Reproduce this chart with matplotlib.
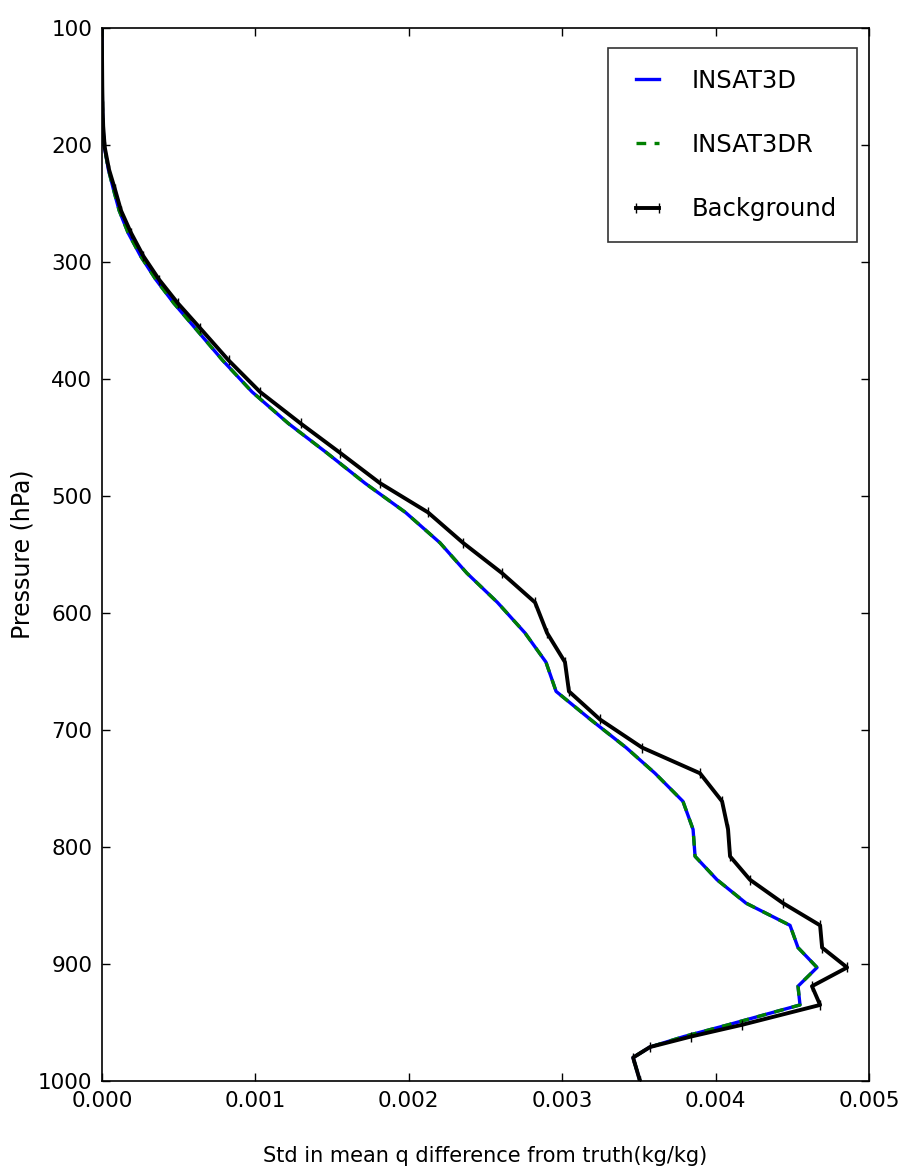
import matplotlib
matplotlib.use("Agg")
import matplotlib.pyplot as plt
from matplotlib.ticker import FormatStrFormatter

# Pressure levels (hPa) shared by all profiles
pressure = [100, 117, 133, 150, 167, 184, 202, 221, 238, 256, 275, 295, 315, 335,
            356, 384, 411, 438, 463, 489, 514, 540, 566, 591, 617, 642, 667, 691,
            715, 737, 761, 785, 808, 828, 848, 867, 886, 903, 919, 935, 952, 962,
            971, 980, 1000]

# Std of mean specific humidity difference from truth (kg/kg)
insat3d = [0.0, 0.0, 0.000001, 0.000002, 0.000003, 0.000006, 0.000016, 0.000042,
           0.000075, 0.000112, 0.000170, 0.000252, 0.000351, 0.000467, 0.000604,
           0.000786, 0.000978, 0.001215, 0.001464, 0.001714, 0.001978, 0.002203,
           0.002379, 0.002578, 0.002757, 0.002894, 0.002960, 0.003184, 0.003416,
           0.003605, 0.003787, 0.003853, 0.003866, 0.004009, 0.004198, 0.004485,
           0.004537, 0.004661, 0.004537, 0.004550, 0.004081, 0.003794, 0.003572,
           0.003462, 0.003507]

insat3dr = [0.0, 0.0, 0.000001, 0.000002, 0.000003, 0.000006, 0.000016, 0.000042,
            0.000075, 0.000112, 0.000170, 0.000252, 0.000351, 0.000467, 0.000604,
            0.000786, 0.000978, 0.001215, 0.001464, 0.001714, 0.001978, 0.002203,
            0.002379, 0.002578, 0.002757, 0.002894, 0.002960, 0.003184, 0.003416,
            0.003605, 0.003787, 0.003853, 0.003866, 0.004009, 0.004198, 0.004485,
            0.004537, 0.004661, 0.004537, 0.004550, 0.004081, 0.003794, 0.003572,
            0.003462, 0.003507]

background = [0.0, 0.0, 0.000001, 0.000002, 0.000004, 0.000008, 0.000018, 0.000046,
              0.000085, 0.000124, 0.000189, 0.000270, 0.000372, 0.000493, 0.000636,
              0.000825, 0.001030, 0.001295, 0.001551, 0.001812, 0.002125, 0.002353,
              0.002608, 0.002823, 0.002901, 0.003018, 0.003044, 0.003246, 0.003520,
              0.003898, 0.004042, 0.004081, 0.004094, 0.004224, 0.004439, 0.004681,
              0.004694, 0.004857, 0.004628, 0.004681, 0.004172, 0.003840, 0.003572,
              0.003462, 0.003507]

series_labels = ["INSAT3D", "INSAT3DR", "Background"]
x_ticks = [0.000, 0.001, 0.002, 0.003, 0.004, 0.005]
y_ticks = [100, 200, 300, 400, 500, 600, 700, 800, 900, 1000]

plt.rcParams["font.family"] = ["DejaVu Sans"]
plt.rcParams["lines.scale_dashes"] = False

fig = plt.figure(figsize=(9.0, 11.76), dpi=100)
ax = fig.add_axes([0.1133, 0.0808, 0.8523, 0.8954])

ax.plot(insat3d, pressure, color="blue", lw=2.4, label=series_labels[0])
ax.plot(insat3dr, pressure, color="green", lw=2.4, dashes=(7, 6),
        label=series_labels[1])
ax.plot(background, pressure, color="black", lw=2.8, marker="|", ms=7, mew=1,
        label=series_labels[2])

ax.set_xlim(0, 0.005)
ax.set_ylim(1000, 100)
ax.set_xticks(x_ticks)
ax.set_yticks(y_ticks)
ax.xaxis.set_major_formatter(FormatStrFormatter("%.3f"))
ax.tick_params(direction="in", length=6, width=1, top=True, right=True,
               labelsize=15.5, pad=7)
for s in ax.spines.values():
    s.set_linewidth(1.2)

ax.set_xlabel("Std in mean q difference from truth(kg/kg)", fontsize=15)
ax.xaxis.set_label_coords(0.5, -0.062)
ax.set_ylabel("Pressure (hPa)", fontsize=17)
ax.yaxis.set_label_coords(-0.088, 0.5)

leg = ax.legend(loc="upper right", bbox_to_anchor=(0.9844, 0.981),
                borderaxespad=0.0, fontsize=17.5, numpoints=2,
                handlelength=1.56, handletextpad=1.03, labelspacing=1.66,
                borderpad=0.85, fancybox=False)
leg.get_frame().set_edgecolor("black")
leg.get_frame().set_linewidth(1.2)

fig.savefig("out.png", dpi=100)
